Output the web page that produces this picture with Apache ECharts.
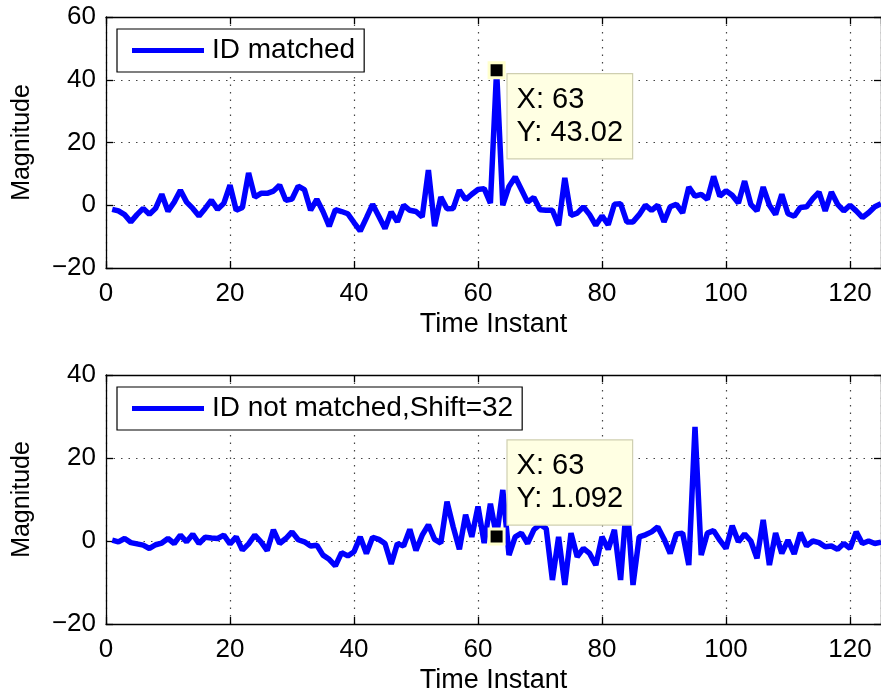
<!DOCTYPE html>
<html>
<head>
<meta charset="utf-8">
<script src="https://cdn.jsdelivr.net/npm/echarts@6/dist/echarts.min.js"></script>
<style>
  html, body { margin: 0; padding: 0; background: #fff; }
  #chart { width: 881px; height: 695px; }
</style>
</head>
<body>
<div id="chart"></div>
<script>
// time instants 1..125
var matchedValues = [
  -1.3, -1.8, -3, -5.3, -3, -1, -2.9, -1, 3.5, -1.9,
  1, 4.8, 1, -1, -3.4, -1, 1.6, -1.3, 0.6, 6.4,
  -1.6, -0.7, 10.3, 2.6, 3.8, 3.8, 4.5, 6.4, 1.6, 2,
  6.1, 5, -1.6, 1.9, -2, -6.7, -1.4, -2, -2.7, -5.5,
  -8.2, -4, 0.3, -3.5, -7.4, -2.1, -5.3, 0, -1.6, -2,
  -3.7, 11.2, -6.7, 2.6, -1.1, -1, 4.8, 1.8, 3.5, 5,
  5.3, 0.7, 43.02, 0, 6, 9, 5, 1, 2.5, -1.4,
  -1.6, -1.6, -6.4, 8.7, -3.2, -2.5, -0.5, -3, -6.4, -3.4,
  -6.2, 0.3, 0.5, -5.3, -5.3, -3, 0, -1.6, 0, -5.3,
  -0.5, 0.3, -2.4, 5.8, 2.9, 3.5, 1.9, 9.2, 2.9, 4.6,
  3.2, 0.7, 7.7, 0.3, -1.8, 5.8, 0, -2.9, 3.5, -2.7,
  -3.5, -0.7, -0.5, 2.1, 4.2, -1.8, 4.2, 0.3, -1.8, 0,
  -1.8, -3.9, -2.4, -0.5, 0.5
]
var shiftedValues = [
  0.2, -0.2, 0.6, -0.4, -0.7, -1, -1.8, -0.9, -0.5, 0.6,
  -0.6, 1.4, -0.2, 1.6, -0.6, 0.9, 0.7, 0.6, 1.4, -0.7,
  1, -2.2, -0.7, 1.4, -0.2, -2.3, 2.7, -0.6, 0.6, 2.2,
  0.3, -0.2, -1.2, -1, -3.4, -4.4, -6, -2.8, -3.6, -2.6,
  1, -3, 0.9, 0.4, -0.6, -5.5, -0.6, -1.2, 2.8, -2.3,
  1.4, 3.9, 0.4, -0.5, 9.5, 3.4, -2, 6.3, 1, 8.3,
  -0.5, 9, 1.092, 12.3, -3.4, 1, 1.9, -0.6, 2.7, 4,
  3, -9.4, 1, -10.6, 1.9, -3.8, -1.8, -3, -5.8, 1,
  -2, 2.7, -9.4, 9.9, -10.6, 1, 1.5, 2.2, 3.4, 0.5,
  -3, 1.7, 1.9, -5.8, 27.5, -3.4, 1.9, 2.5, 0.2, -1.8,
  3.7, -0.2, 1.7, 0, -4.2, 5.1, -5.8, 1.9, -3, 0.2,
  -3.1, 2, -1.2, 0, -0.4, -1.4, -1.2, -2, -0.6, -1.8,
  2.2, -0.6, 0, -0.6, -0.3
]
var seriesNames = ['ID matched', 'ID not matched,Shift=32']
var tipIndex = 63
var xTicks = [0, 125, 20]
var yTicksTop = [-20, 60, 20]
var yTicksBottom = [-20, 40, 20]

var font = 'Liberation Sans, Arial, Helvetica, sans-serif'

function toPairs(values) {
  return values.map(function (v, i) { return [i + 1, v] })
}

function yLabel(v) {
  return v < 0 ? '\u2212' + Math.abs(v) : String(v)
}

function xAxisBottom(gridIndex) {
  return {
    type: 'value', gridIndex: gridIndex, position: 'bottom',
    min: xTicks[0], max: xTicks[1], interval: xTicks[2],
    name: 'Time Instant', nameLocation: 'middle', nameGap: 43,
    nameTextStyle: { color: '#000', fontSize: 27, fontFamily: font },
    axisLine: { onZero: false, lineStyle: { color: '#000', width: 1.3 } },
    axisTick: { inside: true, length: 7, lineStyle: { color: '#000', width: 1.3 } },
    axisLabel: { color: '#000', fontSize: 26, fontFamily: font, margin: 13, showMaxLabel: false },
    splitLine: { show: true, lineStyle: { color: '#444', width: 1.2, type: [1.5, 6] } }
  }
}

function xAxisTop(gridIndex) {
  return {
    type: 'value', gridIndex: gridIndex, position: 'top',
    min: xTicks[0], max: xTicks[1], interval: xTicks[2],
    axisLine: { onZero: false, lineStyle: { color: '#000', width: 1.3 } },
    axisTick: { inside: true, length: 7, lineStyle: { color: '#000', width: 1.3 } },
    axisLabel: { show: false },
    splitLine: { show: false }
  }
}

function yAxisLeft(gridIndex, ticks) {
  return {
    type: 'value', gridIndex: gridIndex, position: 'left',
    min: ticks[0], max: ticks[1], interval: ticks[2],
    name: 'Magnitude', nameLocation: 'middle', nameGap: 71,
    nameTextStyle: { color: '#000', fontSize: 25, fontFamily: font },
    axisLine: { onZero: false, lineStyle: { color: '#000', width: 1.3 } },
    axisTick: { inside: true, length: 7, lineStyle: { color: '#000', width: 1.3 } },
    axisLabel: { color: '#000', fontSize: 26, fontFamily: font, margin: 10, formatter: yLabel },
    splitLine: { show: true, lineStyle: { color: '#444', width: 1.2, type: [1.5, 6] } }
  }
}

function yAxisRight(gridIndex, ticks) {
  return {
    type: 'value', gridIndex: gridIndex, position: 'right',
    min: ticks[0], max: ticks[1], interval: ticks[2],
    axisLine: { onZero: false, lineStyle: { color: '#000', width: 1.3 } },
    axisTick: { inside: true, length: 7, lineStyle: { color: '#000', width: 1.3 } },
    axisLabel: { show: false },
    splitLine: { show: false }
  }
}

function legendFor(name, top) {
  return {
    data: [{ name: name, icon: 'rect' }], left: 117, top: top,
    backgroundColor: '#fff', borderColor: '#000', borderWidth: 1.2,
    padding: [7, 9, 7, 15], itemWidth: 72, itemHeight: 5,
    selectedMode: false,
    textStyle: { color: '#000', fontSize: 28, lineHeight: 29, fontFamily: font, padding: [0, 0, 0, 3] }
  }
}

function dataTip(values, offset) {
  var y = values[tipIndex - 1]
  return {
    symbol: 'rect', symbolSize: 15, animation: false,
    itemStyle: { color: '#000', borderColor: '#ffffcc', borderWidth: 3 },
    label: {
      show: true, position: offset, align: 'left', verticalAlign: 'top',
      formatter: 'X: ' + tipIndex + '\nY: ' + y,
      color: '#000', fontSize: 29, lineHeight: 33, fontFamily: font,
      backgroundColor: '#ffffe3', borderColor: '#cfcfb0', borderWidth: 1.2,
      padding: [9, 9, 9, 9]
    },
    data: [{ coord: [tipIndex, y] }]
  }
}

var myChart = echarts.init(document.getElementById('chart'))
var option = {
  backgroundColor: '#fff',
  animation: false,
  grid: [
    { left: 106, top: 17, width: 776, height: 251 },
    { left: 106, top: 375, width: 776, height: 249 }
  ],
  xAxis: [xAxisBottom(0), xAxisTop(0), xAxisBottom(1), xAxisTop(1)],
  yAxis: [yAxisLeft(0, yTicksTop), yAxisRight(0, yTicksTop), yAxisLeft(1, yTicksBottom), yAxisRight(1, yTicksBottom)],
  legend: [legendFor(seriesNames[0], 29), legendFor(seriesNames[1], 387)],
  series: [
    {
      name: seriesNames[0], type: 'line', xAxisIndex: 0, yAxisIndex: 0,
      data: toPairs(matchedValues), symbol: 'none',
      itemStyle: { color: '#0000ff' },
      lineStyle: { color: '#0000ff', width: 5.5 },
      markPoint: dataTip(matchedValues, [20, 13])
    },
    {
      name: seriesNames[1], type: 'line', xAxisIndex: 2, yAxisIndex: 2,
      data: toPairs(shiftedValues), symbol: 'none',
      itemStyle: { color: '#0000ff' },
      lineStyle: { color: '#0000ff', width: 5.5 },
      markPoint: dataTip(shiftedValues, [20, -87])
    }
  ]
}
myChart.setOption(option)
</script>
</body>
</html>
